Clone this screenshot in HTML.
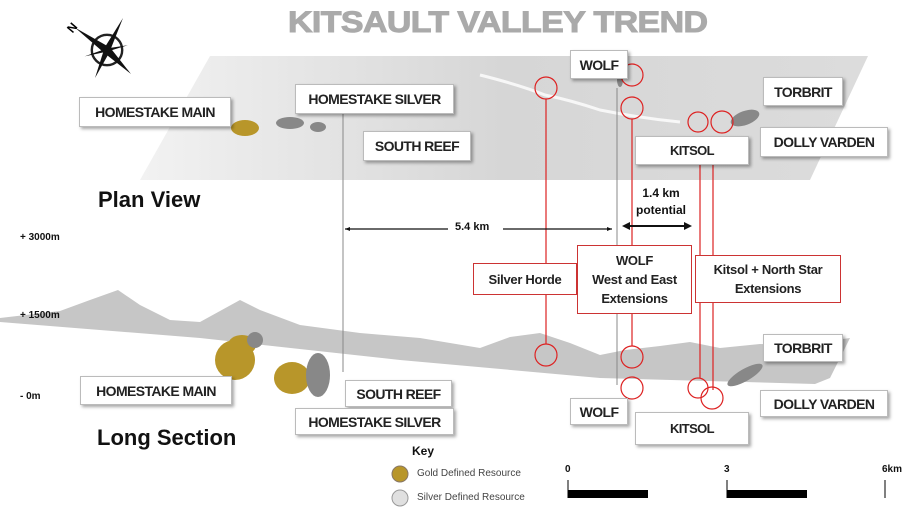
<!DOCTYPE html>
<html><head><meta charset="utf-8"><style>
body{margin:0;width:905px;height:516px;overflow:hidden;background:#fff;font-family:"Liberation Sans",sans-serif;position:relative}
.b{position:absolute;background:#fff;border:1px solid #bbb;box-shadow:2px 2px 3px rgba(0,0,0,.35);font:bold 14px "Liberation Sans",sans-serif;color:#222;display:flex;align-items:center;justify-content:center;letter-spacing:-0.6px;white-space:nowrap}
.r{position:absolute;background:#fff;border:1px solid #c33;font:bold 13px "Liberation Sans",sans-serif;color:#222;display:flex;align-items:center;justify-content:center;text-align:center;line-height:19px;letter-spacing:-0.3px}
.t{position:absolute;font-weight:bold;color:#111}
</style></head><body>
<svg width="905" height="516" style="position:absolute;left:0;top:0">
<defs><linearGradient id="g" x1="0" x2="1"><stop offset="0" stop-color="#f2f2f2"/><stop offset=".5" stop-color="#d6d6d6"/><stop offset="1" stop-color="#dcdcdc"/></linearGradient></defs>
<polygon points="210,56 868,56 810,180 140,180" fill="url(#g)"/>
<path d="M480,75 Q520,85 545,95 Q570,100 600,110 Q640,118 680,122" stroke="#fff" stroke-width="3" fill="none" opacity=".8"/>
<polygon points="0,318 60,311 90,300 118,290 140,305 170,320 200,322 240,300 260,310 300,325 360,333 420,338 480,348 510,337 540,333 570,343 600,355 625,350 660,346 690,342 720,348 760,344 800,345 850,338 830,378 815,384 600,378 400,360 200,338 0,322" fill="#c6c6c6"/>
<g fill="#b8962a"><ellipse cx="245" cy="128" rx="14" ry="8"/><ellipse cx="235" cy="360" rx="20" ry="20"/><ellipse cx="242" cy="345" rx="14" ry="10"/><ellipse cx="292" cy="378" rx="18" ry="16"/></g>
<g fill="#888"><ellipse cx="290" cy="123" rx="14" ry="6"/><ellipse cx="318" cy="127" rx="8" ry="5"/><ellipse cx="318" cy="375" rx="12" ry="22"/><ellipse cx="255" cy="340" rx="8" ry="8"/><ellipse cx="745" cy="375" rx="20" ry="6" transform="rotate(-30 745 375)"/><ellipse cx="745" cy="118" rx="15" ry="7" transform="rotate(-20 745 118)"/><ellipse cx="620" cy="80" rx="3" ry="7"/></g>
<g stroke="#888" stroke-width="1" fill="none"><line x1="343" y1="112" x2="343" y2="372"/><line x1="617" y1="88" x2="617" y2="385"/></g>
<g stroke="#d22" stroke-width="1.2" fill="none">
<line x1="546" y1="99" x2="546" y2="344"/><line x1="632" y1="119" x2="632" y2="346"/>
<line x1="700" y1="163" x2="700" y2="378"/><line x1="713" y1="163" x2="713" y2="390"/>
<circle cx="546" cy="88" r="11"/><circle cx="632" cy="75" r="11"/><circle cx="632" cy="108" r="11"/><circle cx="698" cy="122" r="10"/><circle cx="722" cy="122" r="11"/>
<circle cx="546" cy="355" r="11"/><circle cx="632" cy="357" r="11"/><circle cx="632" cy="388" r="11"/><circle cx="698" cy="388" r="10"/><circle cx="712" cy="398" r="11"/>
</g>
<g stroke="#111" stroke-width="1.3"><line x1="345" y1="229" x2="448" y2="229"/><line x1="503" y1="229" x2="612" y2="229"/><line x1="624" y1="226" x2="690" y2="226" stroke-width="2"/></g>
<polygon points="345,229 350,227 350,231" fill="#111"/><polygon points="612,229 607,227 607,231" fill="#111"/>
<polygon points="622,226 630,222 630,230" fill="#111"/><polygon points="692,226 684,222 684,230" fill="#111"/>
<g transform="translate(107,50) scale(0.8)">
<circle r="19" fill="none" stroke="#222" stroke-width="3"/>
<polygon points="-40,-28 4,-3 -3,4" fill="#111"/><polygon points="30,30 4,-3 -3,4" fill="#111"/>
<polygon points="20,-40 -3,-3 3,3" fill="#111"/><polygon points="-15,35 -3,-3 3,3" fill="#111"/>
<polygon points="-28,8 0,-2 0,2" fill="#111"/><polygon points="26,-6 0,-2 0,2" fill="#111"/>
</g>
<text x="68" y="32" font-size="12" font-weight="bold" transform="rotate(-50 72 28)">N</text>
<circle cx="400" cy="474" r="8" fill="#b8962a" stroke="#876"/><circle cx="400" cy="498" r="8" fill="#e0e0e0" stroke="#999"/>
<rect x="568" y="490" width="80" height="8" fill="#000"/><rect x="727" y="490" width="80" height="8" fill="#000"/>
<g stroke="#000"><line x1="568" y1="480" x2="568" y2="498"/><line x1="727" y1="480" x2="727" y2="498"/><line x1="885" y1="480" x2="885" y2="498"/></g>
</svg>
<div class="t" style="left:288px;top:6px;font-size:30px;color:#aaa;letter-spacing:-0.5px;transform:scaleX(1.13);transform-origin:left;-webkit-text-stroke:1px #aaa">KITSAULT VALLEY TREND</div>
<div class="t" style="left:98px;top:187px;font-size:22px">Plan View</div>
<div class="t" style="left:97px;top:425px;font-size:22px">Long Section</div>
<div class="t" style="left:20px;top:232px;font-size:10px">+ 3000m</div>
<div class="t" style="left:20px;top:310px;font-size:10px">+ 1500m</div>
<div class="t" style="left:20px;top:391px;font-size:10px">- 0m</div>
<div class="t" style="left:455px;top:221px;font-size:11px">5.4 km</div>
<div class="t" style="left:632px;top:185px;font-size:12px;text-align:center;line-height:17px;width:58px">1.4 km<br>potential</div>
<div class="b" style="left:79px;top:97px;width:150px;height:28px">HOMESTAKE MAIN</div>
<div class="b" style="left:295px;top:84px;width:157px;height:28px">HOMESTAKE SILVER</div>
<div class="b" style="left:363px;top:131px;width:106px;height:28px">SOUTH REEF</div>
<div class="b" style="left:570px;top:50px;width:56px;height:27px">WOLF</div>
<div class="b" style="left:763px;top:77px;width:78px;height:27px">TORBRIT</div>
<div class="b" style="left:760px;top:127px;width:126px;height:28px">DOLLY VARDEN</div>
<div class="b" style="left:635px;top:136px;width:112px;height:27px;font-size:13px">KITSOL</div>
<div class="b" style="left:80px;top:376px;width:150px;height:27px">HOMESTAKE MAIN</div>
<div class="b" style="left:345px;top:380px;width:105px;height:25px">SOUTH REEF</div>
<div class="b" style="left:295px;top:408px;width:157px;height:25px">HOMESTAKE SILVER</div>
<div class="b" style="left:570px;top:398px;width:56px;height:25px">WOLF</div>
<div class="b" style="left:763px;top:334px;width:78px;height:26px">TORBRIT</div>
<div class="b" style="left:760px;top:390px;width:126px;height:25px">DOLLY VARDEN</div>
<div class="b" style="left:635px;top:412px;width:112px;height:31px;font-size:13px">KITSOL</div>
<div class="r" style="left:473px;top:263px;width:102px;height:30px">Silver Horde</div>
<div class="r" style="left:577px;top:245px;width:113px;height:67px">WOLF<br>West and East<br>Extensions</div>
<div class="r" style="left:695px;top:255px;width:144px;height:46px">Kitsol + North Star<br>Extensions</div>
<div class="t" style="left:412px;top:444px;font-size:12px">Key</div>
<div style="position:absolute;left:417px;top:468px;font-size:10px;color:#444">Gold Defined Resource</div>
<div style="position:absolute;left:417px;top:492px;font-size:10px;color:#444">Silver Defined Resource</div>
<div class="t" style="left:565px;top:464px;font-size:10px">0</div>
<div class="t" style="left:724px;top:464px;font-size:10px">3</div>
<div class="t" style="left:882px;top:464px;font-size:10px">6km</div>
</body></html>
